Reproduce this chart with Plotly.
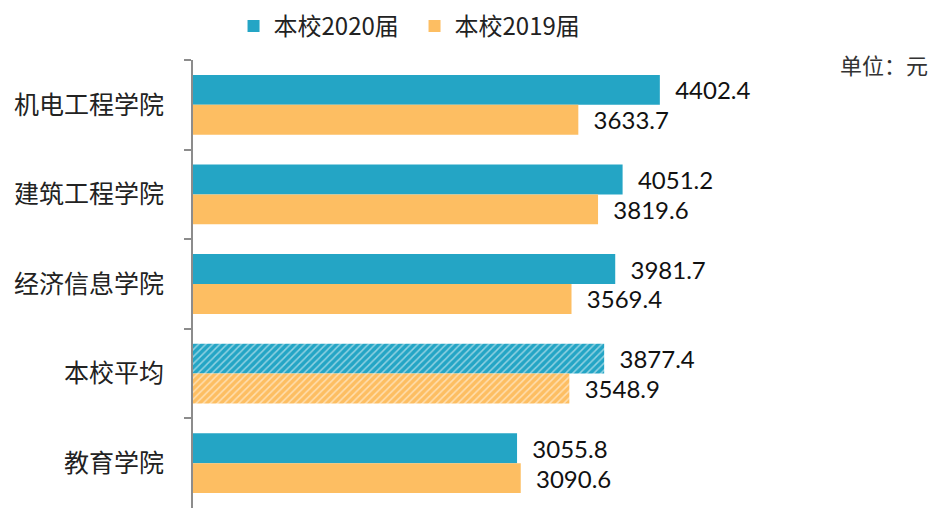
import plotly.graph_objects as go

# ── Data ───────────────────────────────────────────────
colleges = ["机电工程学院", "建筑工程学院", "经济信息学院", "本校平均", "教育学院"]
salary_2020 = [4402.4, 4051.2, 3981.7, 3877.4, 3055.8]
salary_2019 = [3633.7, 3819.6, 3569.4, 3548.9, 3090.6]

# ── Style ──────────────────────────────────────────────
_C_TEAL = "#24A5C5"
_C_ORANGE = "#FDBE62"
_CJK = "Noto Sans CJK SC"
_NUM = "Lato, Noto Sans, sans-serif"

# hatched bar for the school average
shapes = ["/" if c == "本校平均" else "" for c in colleges]


def _bar(name, values, color):
    return go.Bar(
        name=name,
        y=colleges,
        x=values,
        orientation="h",
        marker=dict(
            color=color,
            line=dict(width=0),
            pattern=dict(shape=shapes, fgcolor="white", size=5,
                         solidity=0.3, fillmode="overlay"),
        ),
        text=[f"{v:.1f}" for v in values],
        texttemplate="  %{text}",
        textposition="outside",
        textfont=dict(family=_NUM, size=24, color="#111111"),
        cliponaxis=False,
    )


fig = go.Figure()
fig.add_trace(_bar("本校2020届", salary_2020, _C_TEAL))
fig.add_trace(_bar("本校2019届", salary_2019, _C_ORANGE))

fig.add_annotation(
    text="单位：元", xref="paper", yref="paper", x=1.0, y=0.99,
    xanchor="right", yanchor="middle", showarrow=False,
    font=dict(family=_CJK, size=22, color="#333333"),
)

# page body has an 8px margin, so the figure is 8px smaller than the window
fig.update_layout(
    width=928,
    height=500,
    barmode="group",
    bargap=0.333,
    bargroupgap=0,
    plot_bgcolor="white",
    paper_bgcolor="white",
    margin=dict(l=185, r=6, t=52, b=0, autoexpand=False),
    font=dict(family=_CJK, size=20, color="#222222"),
    showlegend=True,
    legend=dict(
        orientation="h", x=0.055, y=1.075, xanchor="left", yanchor="middle",
        font=dict(family=_CJK, size=24, color="#222222"),
        entrywidth=136, entrywidthmode="pixels", traceorder="normal",
    ),
    xaxis=dict(range=[0, 6950], visible=False),
    yaxis=dict(
        autorange="reversed", automargin=False,
        showline=True, linecolor="#8C8C8C", linewidth=2,
        ticks="outside", ticklen=7, tickcolor="#8C8C8C", tickwidth=2,
        tickson="boundaries",
        tickfont=dict(family=_CJK, size=25, color="#222222"),
        ticklabelstandoff=22,
    ),
)

fig.write_html("out.html")
